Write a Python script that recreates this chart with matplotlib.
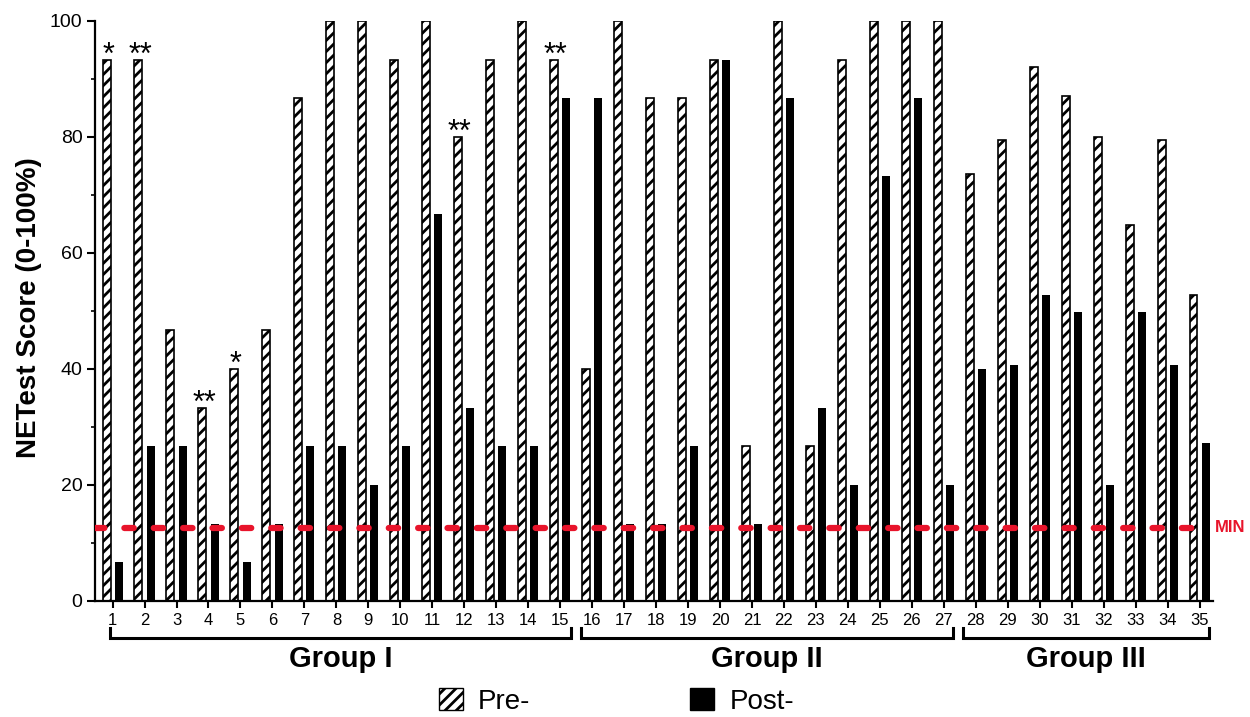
import matplotlib

matplotlib.use("Agg")
import matplotlib.pyplot as plt
import matplotlib.transforms as mtransforms
from matplotlib.patches import Patch
import numpy as np

# NETest score per patient, before and after surgery
PATIENTS = list(range(1, 36))
PRE = [93.3, 93.3, 46.7, 33.3, 40.0, 46.7, 86.7, 100, 100, 93.3,
       100, 80.0, 93.3, 100, 93.3, 40.0, 100, 86.7, 86.7, 93.3,
       26.7, 100, 26.7, 93.3, 100, 100, 100, 73.5, 79.5, 92.0,
       87.0, 80.0, 64.7, 79.5, 52.7]
POST = [6.7, 26.7, 26.7, 13.3, 6.7, 13.3, 26.7, 26.7, 20.0, 26.7,
        66.7, 33.3, 26.7, 26.7, 86.7, 86.7, 13.3, 13.3, 26.7, 93.3,
        13.3, 86.7, 33.3, 20.0, 73.3, 86.7, 20.0, 40.0, 40.6, 52.7,
        49.8, 20.0, 49.8, 40.6, 27.2]
MIN_SCORE = 12.6
STARS = {1: "*", 2: "**", 4: "**", 5: "*", 12: "**", 15: "**"}
GROUP_NAMES = ["Group I", "Group II", "Group III"]
GROUP_FIRST = [1, 16, 28]
GROUP_LAST = [15, 27, 35]

# style
BAR_W = 0.25
OFFSET = 0.19
RED = "#e8142b"
BRACKET_PAD = [(0.08, 0.35), (0.35, 0.3), (0.4, 0.3)]

plt.rcParams["font.family"] = ["Liberation Sans", "DejaVu Sans"]
plt.rcParams["hatch.linewidth"] = 2.0

fig = plt.figure(figsize=(12.5, 7.17), dpi=100)
ax = fig.add_axes([0.076, 0.1622, 0.8944, 0.8089])

x = np.array(PATIENTS, dtype=float)
ax.bar(x - OFFSET, PRE, width=BAR_W, facecolor="white", edgecolor="black",
       hatch="///", linewidth=1.2, zorder=2)
ax.bar(x + OFFSET, POST, width=BAR_W, color="black", linewidth=0, zorder=2)

ax.axhline(MIN_SCORE, xmax=0.99, color=RED, lw=4.5, linestyle=(0, (1.5, 3.2)),
           dash_capstyle="round", zorder=3)
blend = mtransforms.blended_transform_factory(ax.transAxes, ax.transData)
shift = mtransforms.offset_copy(blend, fig=fig, x=1, y=0, units="points")
ax.text(1.0, MIN_SCORE, "MIN", transform=shift, color=RED, fontsize=12,
        fontweight="bold", ha="left", va="center", clip_on=False)

for pid, mark in STARS.items():
    ax.text(pid - OFFSET + 0.05, PRE[pid - 1] - 0.8, mark, ha="center",
            va="baseline", fontsize=22)

ax.set_xlim(0.45, 35.42)
ax.set_ylim(0, 100)
ax.set_xticks(PATIENTS)
ax.set_xticklabels([str(p) for p in PATIENTS],
                   fontfamily=["Liberation Sans Narrow", "Liberation Sans"])
ax.set_yticks([0, 20, 40, 60, 80, 100])
ax.set_yticks([10, 30, 50, 70, 90], minor=True)
ax.tick_params(axis="x", length=5, width=1.5, labelsize=12, pad=4)
ax.tick_params(axis="y", which="major", length=6, width=1.5, labelsize=14, pad=3)
ax.tick_params(axis="y", which="minor", length=3, width=1.2)
for side in ("top", "right"):
    ax.spines[side].set_visible(False)
for side in ("left", "bottom"):
    ax.spines[side].set_linewidth(1.6)

ax.set_ylabel("NETest Score (0-100%)", fontsize=20, fontweight="bold")
ax.yaxis.set_label_coords(-0.047, 0.506)

# group brackets under the axis
for name, first, last, (lpad, rpad) in zip(GROUP_NAMES, GROUP_FIRST, GROUP_LAST, BRACKET_PAD):
    x0, x1 = first - lpad, last + rpad
    ax.plot([x0, x0, x1, x1], [-4.7, -6.4, -6.4, -4.7], color="black", lw=2.2,
            clip_on=False, solid_joinstyle="miter")
    ax.text((x0 + x1) / 2, -10.0, name, ha="center", va="center",
            fontsize=21, fontweight="bold")

handles = [Patch(facecolor="white", edgecolor="black", hatch="///", linewidth=1.0),
           Patch(facecolor="black", edgecolor="black")]
fig.legend(handles, ["Pre-", "Post-"], loc="upper left", ncol=2,
           bbox_to_anchor=(439 / 1250, 1 - 688 / 717), frameon=False,
           fontsize=20, borderpad=0, borderaxespad=0, handlelength=0.86,
           handleheight=0.86, handletextpad=0.55, columnspacing=5.75)

fig.savefig("out.png", dpi=100)
